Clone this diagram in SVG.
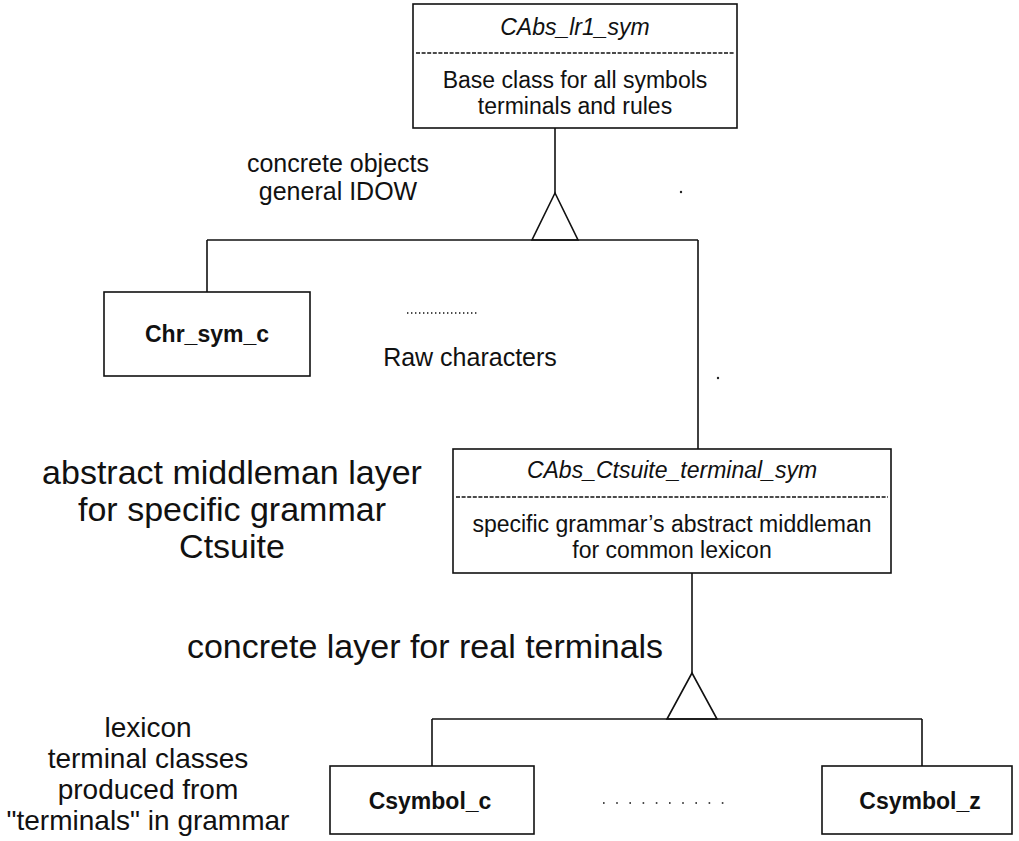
<svg xmlns="http://www.w3.org/2000/svg" width="1019" height="841" viewBox="0 0 1019 841">
  <style>
    .box { fill: #ffffff; stroke: #111111; stroke-width: 1.6; }
    .sep { stroke: #111111; stroke-width: 1.3; stroke-dasharray: 4 1.6; fill: none; }
    .wire { stroke: #111111; stroke-width: 1.6; fill: none; }
    .gen { fill: #ffffff; stroke: #111111; stroke-width: 1.6; stroke-linejoin: miter; }
    text { font-family: "Liberation Sans", Arial, Helvetica, sans-serif; fill: #111111; }
    .cls { font-size: 23px; font-style: italic; text-anchor: middle; }
    .body { font-size: 23px; text-anchor: middle; }
    .name { font-size: 23px; font-weight: bold; text-anchor: middle; }
    .note { font-size: 25px; text-anchor: middle; }
    .big { font-size: 34px; text-anchor: middle; }
    .mid { font-size: 28px; text-anchor: middle; }
    .dots { stroke: #111111; stroke-width: 1.4; stroke-dasharray: 1.4 2.6; fill: none; }
  </style>

  <!-- inheritance connectors -->
  <g id="connectors">
    <line class="wire" x1="555" y1="128" x2="555" y2="193"/>
    <polygon class="gen" points="555,193 532,240 578,240"/>
    <line class="wire" x1="207" y1="240" x2="698" y2="240"/>
    <line class="wire" x1="207" y1="240" x2="207" y2="292"/>
    <line class="wire" x1="698" y1="240" x2="698" y2="449"/>

    <line class="wire" x1="692" y1="573" x2="692" y2="673"/>
    <polygon class="gen" points="692,673 667,719 717,719"/>
    <line class="wire" x1="432" y1="719" x2="922" y2="719"/>
    <line class="wire" x1="432" y1="719" x2="432" y2="766"/>
    <line class="wire" x1="922" y1="719" x2="922" y2="766"/>
  </g>

  <!-- root symbol class -->
  <g id="node-cabs-lr1-sym">
    <rect class="box" x="413" y="4" width="324" height="124"/>
    <text class="cls" x="575" y="35">CAbs_lr1_sym</text>
    <line class="sep" x1="416" y1="53" x2="734" y2="53"/>
    <text class="body" x="575" y="88">Base class for all symbols</text>
    <text class="body" x="575" y="114">terminals and rules</text>
  </g>

  <g id="label-concrete-objects">
    <text class="note" x="338" y="172">concrete objects</text>
    <text class="note" x="338" y="200">general IDOW</text>
  </g>

  <g id="node-chr-sym-c">
    <rect class="box" x="104" y="292" width="206" height="84"/>
    <text class="name" x="207" y="342">Chr_sym_c</text>
  </g>

  <g id="label-raw-characters">
    <line class="dots" x1="407" y1="313" x2="479" y2="313"/>
    <text class="note" x="470" y="366">Raw characters</text>
  </g>

  <g id="label-middleman-layer">
    <text class="big" x="232" y="484">abstract middleman layer</text>
    <text class="big" x="232" y="521">for specific grammar</text>
    <text class="big" x="232" y="558">Ctsuite</text>
  </g>

  <!-- grammar-specific abstract terminal -->
  <g id="node-cabs-ctsuite-terminal-sym">
    <rect class="box" x="453" y="449" width="438" height="124"/>
    <text class="cls" x="672" y="478">CAbs_Ctsuite_terminal_sym</text>
    <line class="sep" x1="456" y1="497" x2="888" y2="497"/>
    <text class="body" x="672" y="532">specific grammar’s abstract middleman</text>
    <text class="body" x="672" y="558">for common lexicon</text>
  </g>

  <g id="label-concrete-layer">
    <text class="big" x="425" y="658">concrete layer for real terminals</text>
  </g>

  <g id="label-lexicon">
    <text class="mid" x="148" y="737">lexicon</text>
    <text class="mid" x="148" y="768">terminal classes</text>
    <text class="mid" x="148" y="799">produced from</text>
    <text class="mid" x="148" y="830">"terminals" in grammar</text>
  </g>

  <g id="node-csymbol-c">
    <rect class="box" x="330" y="766" width="204" height="68"/>
    <text class="name" x="430" y="809">Csymbol_c</text>
  </g>

  <g id="ellipsis-symbols">
    <line class="wire" x1="603" y1="803" x2="735" y2="803" stroke-dasharray="1.6 11.6" stroke-width="1.6"/>
  </g>

  <g id="node-csymbol-z">
    <rect class="box" x="822" y="766" width="190" height="68"/>
    <text class="name" x="920" y="809">Csymbol_z</text>
  </g>

  <!-- specks on the sheet -->
  <g id="specks" fill="#222222">
    <circle cx="681" cy="192" r="1.2"/>
    <circle cx="718" cy="378" r="1.2"/>
  </g>
</svg>
